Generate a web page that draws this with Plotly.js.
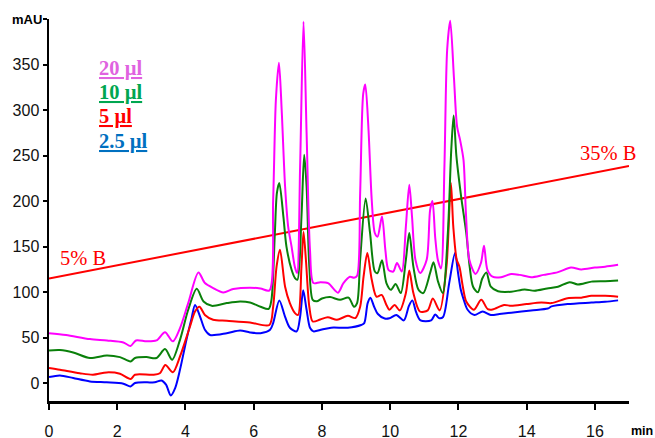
<!DOCTYPE html>
<html>
<head>
<meta charset="utf-8">
<script src="https://cdn.plot.ly/plotly-3.0.1.min.js"></script>
<style>html,body{margin:0;padding:0;background:#fff;}#chart{width:655px;height:438px;}</style>
</head>
<body>
<div id="chart"></div>
<script>
// ---- data (time in min, absorbance in mAU) ----
const tMag = [0,0.5,1.2,1.7,2.18,2.39,2.55,2.86,3.15,3.4,3.63,3.84,4.08,4.38,4.57,4.81,5.11,5.4,5.89,6.2,6.46,6.57,6.65,6.74,6.82,6.92,7.01,7.11,7.21,7.27,7.36,7.46,7.55,7.65,7.75,7.95,8.18,8.47,8.63,8.82,8.94,9.03,9.12,9.21,9.27,9.36,9.46,9.55,9.63,9.76,9.86,9.95,10.09,10.2,10.34,10.46,10.56,10.64,10.74,10.88,11.07,11.17,11.24,11.32,11.4,11.49,11.59,11.67,11.76,11.87,11.96,12.05,12.15,12.22,12.32,12.5,12.66,12.75,12.85,13.0,13.25,13.55,13.8,14.13,14.5,14.92,15.3,15.6,16.0,16.3,16.68];
const yMag = [55,53,48.5,47,44.8,41,47,46,47,56,46,60.6,88,121.6,110,104.5,99.7,103.4,105,104,102,201,311,352,300,216,172,150,127,121,238,397,275,146,110,111,110,99.5,110,117,115.8,118,209,318,328,282,201,165,161,183,146,124.6,122.7,132,122.7,172,218,183,135.6,121,135.6,190,200,160,135,126,238,366,398,335,282,267,245,187,135.6,120,132,151,124.6,117,116.5,120,119,116.5,119,122,127,125,127,128,130];

const tGrn = [0,0.32,0.71,1.2,1.69,2.08,2.39,2.52,2.86,3.15,3.4,3.61,3.84,4.08,4.33,4.53,4.77,5.21,5.6,5.89,6.2,6.44,6.52,6.62,6.68,6.75,6.87,6.96,7.11,7.21,7.28,7.4,7.48,7.55,7.63,7.73,7.85,8.0,8.24,8.53,8.78,8.94,9.03,9.12,9.28,9.41,9.55,9.63,9.76,9.89,10.02,10.16,10.31,10.46,10.56,10.68,10.83,10.97,11.17,11.27,11.4,11.54,11.69,11.79,11.86,11.94,12.08,12.23,12.33,12.43,12.57,12.7,12.82,12.95,13.16,13.55,13.94,14.23,14.6,14.92,15.26,15.5,15.9,16.3,16.68];
const yGrn = [36,36.5,33.8,27.7,30.5,28.7,24,27.7,28.7,27.7,37.5,25.8,47.7,80.7,103.7,89.8,85,88,89.8,88.7,84,81.7,91.6,165,209,220,183,150,124.6,115.5,113.6,183,250.8,216,128,91.6,90,93,94.6,91.6,94,84,88,135.6,203,165,122.7,121,135,110,102.6,109,99,135.6,165,128,102.6,99,121,133,112,99,165,256,294,250,205,165,128,106,100,115,121.6,106,101,100.5,103,101.5,104,106,111,108.5,111.6,112,112.7];

const tRed = [0,0.32,0.9,1.29,1.69,2.08,2.39,2.52,3.05,3.25,3.41,3.63,3.84,4.13,4.28,4.41,4.57,4.81,5.21,5.89,6.46,6.57,6.67,6.77,6.92,7.06,7.21,7.3,7.4,7.46,7.53,7.63,7.73,7.95,8.17,8.44,8.76,8.98,9.12,9.22,9.33,9.46,9.6,9.75,9.89,9.98,10.13,10.28,10.46,10.56,10.68,10.87,11.1,11.25,11.45,11.65,11.78,11.85,11.95,12.03,12.13,12.23,12.45,12.67,12.86,13.0,13.34,13.55,14.0,14.43,14.73,15.2,15.6,15.9,16.3,16.68];
const yRed = [16.7,14.8,11,9.3,11.9,10.4,4.6,9.3,9.3,11,20,12,29.4,62,78.8,84,75,69.7,68.6,66.7,64,84,128,146.5,106,88,77,75,128,166,135.6,84,67.8,70,72.5,69.7,74,71.6,84,117,143,113.6,95,97,86,80.7,86,80,99,123.8,99,78.8,80,93,80,128,220,172,135.6,128,106,89.8,80.7,91.6,81.4,81,86,85,87,88.6,88,93.4,94,96,96,95];

const tBlu = [0,0.32,0.71,1.2,1.69,2.18,2.39,2.52,2.86,3.1,3.3,3.43,3.57,3.7,3.84,4.03,4.18,4.28,4.43,4.57,4.72,5.21,5.6,5.89,6.2,6.48,6.57,6.75,6.92,7.06,7.26,7.36,7.45,7.55,7.65,7.75,8.0,8.27,8.76,9.15,9.24,9.34,9.42,9.53,9.64,9.84,9.98,10.18,10.4,10.55,10.65,10.76,10.89,11.2,11.32,11.43,11.55,11.73,11.9,11.99,12.07,12.15,12.27,12.47,12.71,12.95,13.2,13.55,14.13,14.62,14.73,15.2,15.9,16.3,16.68];
const yBlu = [6.8,8.6,5.7,2,1,-0.5,-3.5,0.2,1,1,3,-1.6,-13.4,-5,15,48,71.5,86,73,58.7,53,55,58,55.8,55,58.7,66,91,73,61,57,73,102,80.7,61,57,59,61,61,64,66,88,94,84,76,71,71.4,75,69,85,91,78,69,69,75.6,71.5,72.7,110,143,121,102.6,92.4,80.7,75,78.8,75,76,77.5,80,82,84.4,87,88.6,89.5,91];

// gradient (%B) line
const gradT = [0, 17];
const gradY = [115, 238.5];
const gradLabels = ['5% B', '35% B'];

// legend labels
const volLabels = ['20 µl', '10 µl', '5 µl', '2.5 µl'];
const volColors = ['#E062E0', '#00A650', '#FF0000', '#0070C0'];

// axis ticks
const xTicks = [0,2,4,6,8,10,12,14,16];
const yTicks = [0,50,100,150,200,250,300,350,400];
const yTickText = ['0','50','100','150','200','250','300','350',''];

const lineStyle = (c) => ({color: c, width: 2, shape: 'spline', smoothing: 0.8});

const traces = [
  {x: gradT, y: gradY, mode: 'lines', line: {color: '#FF0000', width: 2}},
  {x: tBlu, y: yBlu, mode: 'lines', line: lineStyle('#0000FF')},
  {x: tRed, y: yRed, mode: 'lines', line: lineStyle('#FF0000')},
  {x: tGrn, y: yGrn, mode: 'lines', line: lineStyle('#0A800A')},
  {x: tMag, y: yMag, mode: 'lines', line: lineStyle('#FF00FF')}
];

const annotations = [];
const legY = [346, 319, 292.5, 266];
volLabels.forEach((t, i) => {
  annotations.push({
    x: 1.42, y: legY[i], xref: 'x', yref: 'y', xanchor: 'left', yanchor: 'middle',
    text: '<b><u>' + t + '</u></b>', showarrow: false,
    font: {family: 'Liberation Serif, Times New Roman, serif', size: 20.5, color: volColors[i]}
  });
});
annotations.push({x: 0.25, y: 138, xref: 'x', yref: 'y', xanchor: 'left', yanchor: 'middle',
  text: gradLabels[0], showarrow: false,
  font: {family: 'Liberation Serif, Times New Roman, serif', size: 20.5, color: '#FF0000'}});
annotations.push({x: 15.5, y: 253, xref: 'x', yref: 'y', xanchor: 'left', yanchor: 'middle',
  text: gradLabels[1], showarrow: false,
  font: {family: 'Liberation Serif, Times New Roman, serif', size: 20.5, color: '#FF0000'}});
annotations.push({x: 0, y: 400, xref: 'paper', yref: 'y', xanchor: 'right', yanchor: 'middle', xshift: -5,
  text: '<b>mAU</b>', showarrow: false,
  font: {family: 'Liberation Sans, Arial, sans-serif', size: 13, color: '#000'}});
annotations.push({x: 17, y: 0, xref: 'x', yref: 'paper', xanchor: 'left', yanchor: 'middle', yshift: -30,
  text: '<b>min</b>', showarrow: false,
  font: {family: 'Liberation Sans, Arial, sans-serif', size: 12.5, color: '#000'}});

const axisCommon = {
  showline: true, linecolor: '#000', linewidth: 2.5, mirror: false,
  ticks: 'outside', tickcolor: '#000', tickwidth: 2, showgrid: false, zeroline: false,
  tickfont: {family: 'Liberation Sans, Arial, sans-serif', size: 16, color: '#111'}
};

const layout = {
  width: 655, height: 438,
  margin: {l: 49, r: 26, t: 19, b: 37},
  paper_bgcolor: '#fff', plot_bgcolor: '#fff',
  showlegend: false,
  xaxis: Object.assign({}, axisCommon, {range: [0, 17], tickvals: xTicks, ticklen: 6, ticklabelstandoff: 8}),
  yaxis: Object.assign({}, axisCommon, {range: [-19.5, 400], tickvals: yTicks, ticktext: yTickText, ticklen: 4}),
  annotations: annotations
};

Plotly.newPlot('chart', traces, layout, {staticPlot: true, displayModeBar: false});
</script>
</body>
</html>
